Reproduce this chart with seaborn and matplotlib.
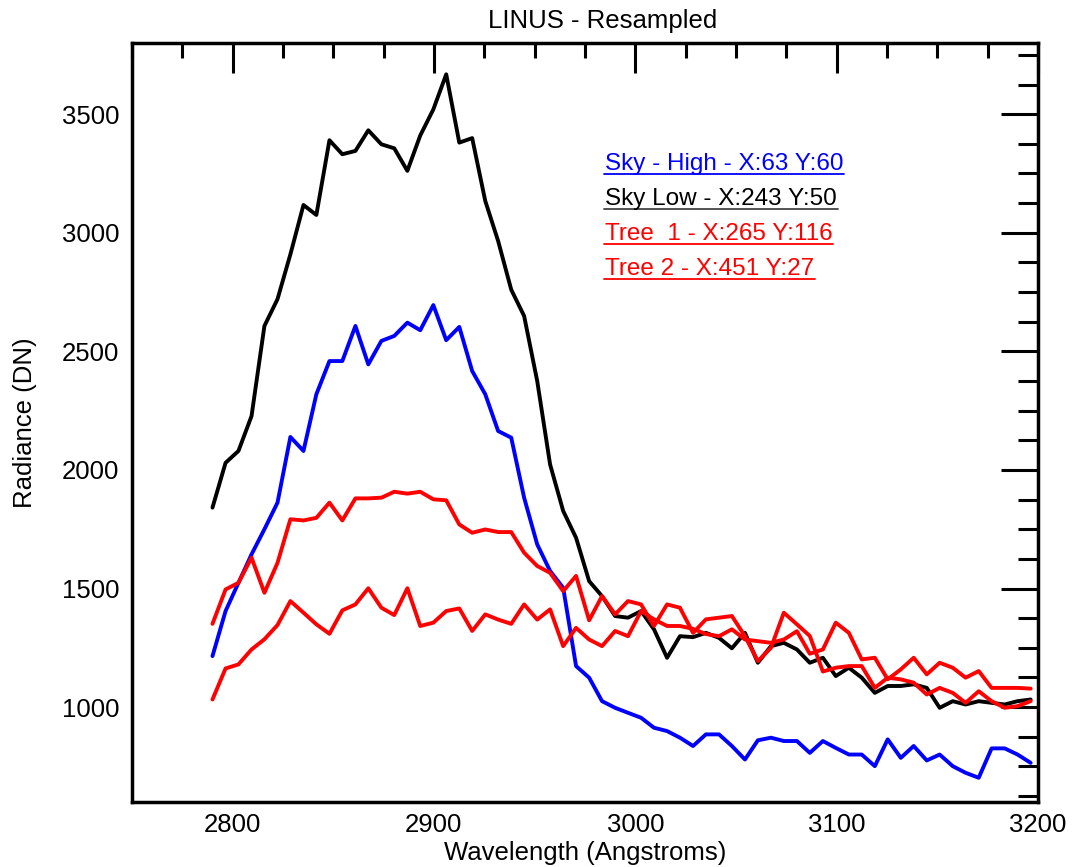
import matplotlib
matplotlib.use("Agg")
import matplotlib.pyplot as plt
import numpy as np
import pandas as pd
import seaborn as sns
from matplotlib.ticker import MultipleLocator

# resampled wavelength grid (Angstroms)
wavelength = [
    2790.0, 2796.5, 2802.9, 2809.4, 2815.8, 2822.3, 2828.7, 2835.2,
    2841.6, 2848.1, 2854.5, 2861.0, 2867.4, 2873.9, 2880.3, 2886.8,
    2893.2, 2899.7, 2906.1, 2912.6, 2919.0, 2925.5, 2931.9, 2938.4,
    2944.8, 2951.3, 2957.7, 2964.2, 2970.6, 2977.1, 2983.5, 2990.0,
    2996.4, 3002.9, 3009.3, 3015.8, 3022.2, 3028.7, 3035.1, 3041.6,
    3048.0, 3054.5, 3060.9, 3067.4, 3073.8, 3080.3, 3086.7, 3093.2,
    3099.6, 3106.1, 3112.5, 3119.0, 3125.4, 3131.9, 3138.3, 3144.8,
    3151.2, 3157.7, 3164.1, 3170.6, 3177.0, 3183.5, 3189.9, 3196.4,
]

sky_high = [
    1215, 1405, 1524, 1644, 1750, 1862, 2139, 2080, 2319, 2459, 2459, 2607,
    2445, 2544, 2565, 2621, 2589, 2695, 2547, 2603, 2417, 2319, 2164, 2136,
    1883, 1686, 1574, 1503, 1173, 1124, 1025, 997, 976, 955, 913, 899,
    871, 836, 885, 885, 836, 779, 860, 871, 857, 857, 807, 857,
    828, 800, 800, 751, 864, 786, 836, 775, 800, 751, 723, 702,
    826, 826, 800, 765,
]

sky_low = [
    1841, 2030, 2080, 2227, 2607, 2720, 2909, 3117, 3075, 3390, 3331, 3345,
    3432, 3373, 3356, 3261, 3410, 3520, 3668, 3380, 3399, 3134, 2965, 2760,
    2649, 2375, 2023, 1827, 1714, 1531, 1468, 1384, 1377, 1405, 1328, 1208,
    1299, 1295, 1313, 1292, 1248, 1313, 1187, 1257, 1271, 1243, 1187, 1208,
    1131, 1166, 1124, 1060, 1089, 1089, 1096, 1081, 997, 1025, 1011, 1025,
    1018, 1011, 1025, 1032,
]

tree_1 = [
    1351, 1496, 1524, 1630, 1482, 1608, 1792, 1787, 1798, 1862, 1787, 1880,
    1880, 1883, 1908, 1900, 1908, 1876, 1872, 1770, 1735, 1749, 1738, 1738,
    1651, 1595, 1566, 1489, 1553, 1366, 1468, 1391, 1447, 1433, 1342, 1433,
    1419, 1313, 1370, 1377, 1384, 1299, 1194, 1250, 1398, 1349, 1300, 1150,
    1166, 1173, 1173, 1081, 1124, 1117, 1103, 1053, 1081, 1060, 1018, 1067,
    1025, 997, 1004, 1025,
]

tree_2 = [
    1032, 1163, 1180, 1243, 1286, 1346, 1447, 1398, 1349, 1309, 1408, 1433,
    1501, 1419, 1388, 1501, 1342, 1356, 1405, 1416, 1321, 1391, 1369, 1351,
    1433, 1369, 1412, 1257, 1334, 1285, 1257, 1321, 1299, 1405, 1370, 1342,
    1342, 1330, 1308, 1299, 1328, 1285, 1278, 1271, 1285, 1320, 1225, 1243,
    1356, 1313, 1201, 1208, 1117, 1159, 1208, 1138, 1187, 1166, 1124, 1152,
    1081, 1081, 1081, 1078,
]

series_names = ["Sky High", "Sky Low", "Tree 1", "Tree 2"]
series_colors = ["#0000ff", "#000000", "#ff0000", "#ff0000"]
legend_labels = [
    "Sky - High - X:63 Y:60",
    "Sky Low - X:243 Y:50",
    "Tree  1 - X:265 Y:116",
    "Tree 2 - X:451 Y:27",
]
legend_colors = ["#0000ff", "#000000", "#ff0000", "#ff0000"]
underline_colors = ["#0000ff", "#444444", "#ff0000", "#ff0000"]

df = pd.DataFrame({
    "wavelength": wavelength * 4,
    "radiance": sky_high + sky_low + tree_1 + tree_2,
    "series": np.repeat(series_names, len(wavelength)),
})

sns.set_theme(style="white")
plt.rcParams["font.family"] = ["Liberation Sans", "DejaVu Sans"]

fig = plt.figure(figsize=(10.78, 8.67), dpi=100)
ax = fig.add_axes([0.1224, 0.075, 0.8404, 0.8754])

sns.lineplot(data=df, x="wavelength", y="radiance", hue="series",
             hue_order=series_names, palette=series_colors,
             linewidth=2.8, legend=False, ax=ax, sort=False)

ax.set_xlim(2750, 3200)
ax.set_ylim(600, 3800)
ax.xaxis.set_major_locator(MultipleLocator(100))
ax.xaxis.set_minor_locator(MultipleLocator(25))
ax.yaxis.set_major_locator(MultipleLocator(500))
ax.yaxis.set_minor_locator(MultipleLocator(125))

ax.tick_params(which="both", direction="in", top=True, right=True,
               width=2.2, color="black", labelcolor="black", labelsize=18.5)
ax.xaxis.set_tick_params(which="major", length=21.5, pad=8)
ax.xaxis.set_tick_params(which="minor", length=10.5)
ax.yaxis.set_tick_params(which="major", length=27, pad=9)
ax.yaxis.set_tick_params(which="minor", length=14.5)
for sp in ax.spines.values():
    sp.set_linewidth(2.5)
    sp.set_color("black")

ax.set_xlabel("Wavelength (Angstroms)", fontsize=18.5, color="black", labelpad=3)
ax.set_ylabel("Radiance (DN)", fontsize=18.5, color="black", labelpad=18)
ax.set_title("LINUS - Resampled", fontsize=18.5, color="black", pad=11, x=0.52)

# coloured, underlined labels in place of a legend
legend_y = [0.8327, 0.7866, 0.7404, 0.6943]
texts = []
for lab, col, yy in zip(legend_labels, legend_colors, legend_y):
    texts.append(ax.text(0.522, yy, lab, color=col, fontsize=17.5,
                         transform=ax.transAxes, va="baseline", ha="left"))

fig.canvas.draw()
renderer = fig.canvas.get_renderer()
inv = ax.transAxes.inverted()
for t, ucol, yy in zip(texts, underline_colors, legend_y):
    bb = t.get_window_extent(renderer)
    base_px = ax.transAxes.transform((0, yy))[1]
    (x0, y0) = inv.transform((bb.x0 - 1, base_px - 4))
    (x1, _) = inv.transform((bb.x1 + 1, base_px - 4))
    ax.plot([x0, x1], [y0, y0], color=ucol, lw=1.3,
            transform=ax.transAxes, clip_on=False)

fig.savefig("out.png", dpi=100, facecolor="white")
